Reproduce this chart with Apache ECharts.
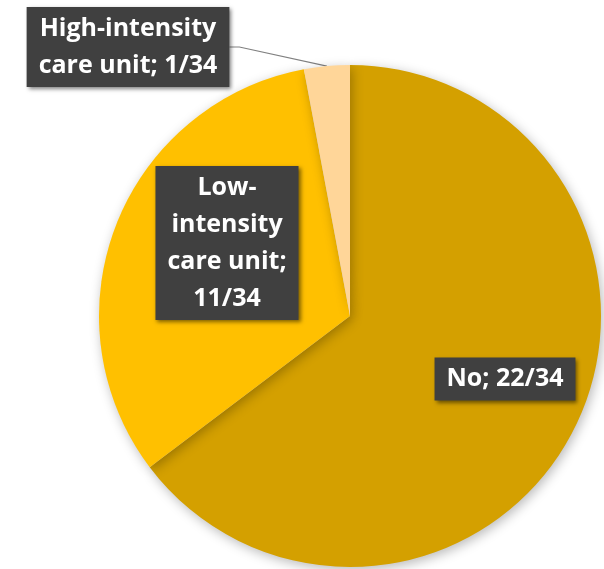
<!DOCTYPE html>
<html><head><meta charset="utf-8">
<script src="https://cdn.jsdelivr.net/npm/echarts@6/dist/echarts.min.js"></script>
<style>html,body{margin:0;padding:0;background:#fff}#c{width:604px;height:569px}</style>
</head><body><div id="c"></div>
<script>
const categories = ['No', 'Low-intensity care unit', 'High-intensity care unit'];
const values = [22, 11, 1];
const labelTexts = ['No; 22/34', 'Low-\nintensity\ncare unit;\n11/34', 'High-intensity\ncare unit; 1/34'];
const colors = ['#D4A000', '#FFC000', '#FFD699'];
const labelCenters = [[505, 379], [227, 243], [128, 47]];

const chart = echarts.init(document.getElementById('c'));
chart.setOption({
  animation: false,
  series: [{
    type: 'pie',
    center: [350, 316],
    radius: [0, 251],
    startAngle: 90,
    clockwise: true,
    itemStyle: { shadowBlur: 12, shadowColor: 'rgba(0,0,0,0.28)', shadowOffsetX: 2, shadowOffsetY: 3 },
    label: {
      position: 'inside',
      formatter: p => labelTexts[p.dataIndex],
      color: '#fff',
      fontFamily: 'Open Sans',
      fontWeight: 'bold',
      fontSize: 25,
      lineHeight: 37,
      backgroundColor: '#404040',
      padding: [4, 12, 2, 12],
      shadowBlur: 4,
      shadowColor: 'rgba(0,0,0,0.5)',
      shadowOffsetX: 2,
      shadowOffsetY: 2
    },
    labelLine: { show: false },
    labelLayout: p => ({
      x: labelCenters[p.dataIndex][0],
      y: labelCenters[p.dataIndex][1],
      align: 'center',
      verticalAlign: 'middle'
    }),
    data: categories.map((c, i) => {
      const d = { name: c, value: values[i], itemStyle: { color: colors[i] } };
      if (i === 2) {
        d.label = { position: 'outside' };
        d.labelLine = { show: true, length: 10, length2: 10, lineStyle: { color: '#808080', width: 1.2 } };
      }
      return d;
    })
  }]
});
</script></body></html>
